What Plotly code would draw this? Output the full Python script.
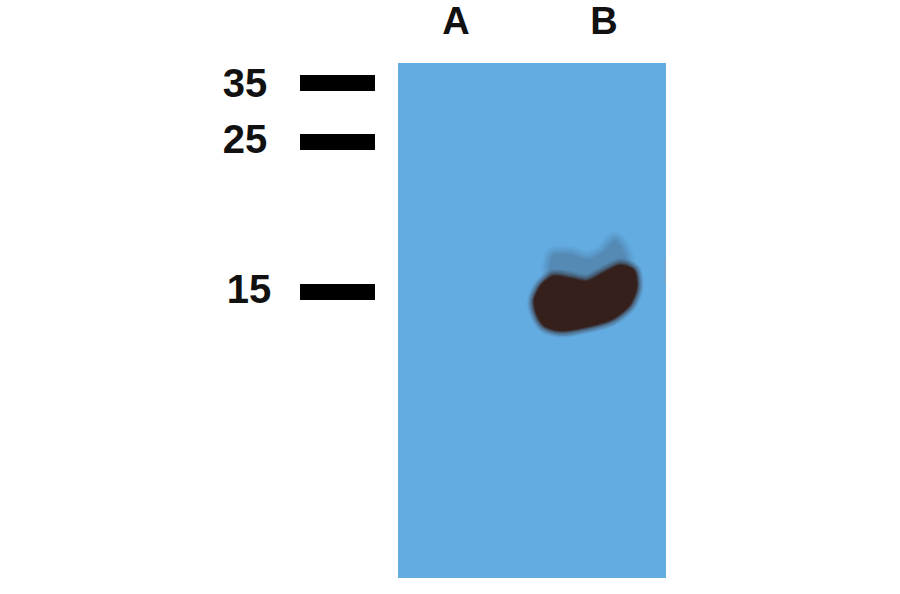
import plotly.graph_objects as go

# everything in image pixels (y runs downwards)
lane_labels = ['A', 'B']
lane_x = [456, 604]
lane_y = [24.5, 24.5]

mw_labels = ['35', '25', '15']
mw_label_x = [245, 245, 249]
mw_label_y = [87, 143, 293]

# marker bars
bar_y = [83, 142, 292]
bar_start = [300, 300, 300]
bar_length = [75, 75, 75]

# film panel
panel_x = [398, 666, 666, 398, 398]
panel_y = [63, 63, 578, 578, 63]

# main band outline
band_x = [534, 541, 553, 570, 587, 603, 620, 634, 637, 630, 613, 587, 560, 544, 536, 534]
band_y = [300, 285, 276, 278, 281, 273, 265, 270, 287, 305, 319, 327, 331, 326, 313, 300]

# fainter smear above the band
smear_x = [550, 553, 570, 587, 602, 615, 623, 627, 600, 570, 550]
smear_y = [275, 255, 254, 259, 253, 240, 250, 265, 285, 285, 275]

# faint mark on the right edge
edge_x = [664, 666, 666, 664, 664]
edge_y = [258, 258, 284, 284, 258]

BLUE = '#63ace2'
DARK = '#35201c'
SMEAR = '#4f7b9e'

fig = go.Figure()

fig.add_trace(go.Scatter(x=panel_x, y=panel_y, mode='lines', fill='toself',
                         fillcolor=BLUE, line=dict(color=BLUE, width=0)))
fig.add_trace(go.Scatter(x=edge_x, y=edge_y, mode='lines', fill='toself', opacity=0.4,
                         fillcolor='#7f9fb8', line=dict(color='#7f9fb8', width=0)))

# stacked wide strokes give the soft film edge
for width, alpha in [(16, 0.1), (12, 0.12), (8, 0.16), (4, 0.2), (0, 0.35)]:
    fig.add_trace(go.Scatter(x=smear_x, y=smear_y, mode='lines', fill='toself', opacity=alpha,
                             fillcolor=SMEAR, line=dict(color=SMEAR, width=width, shape='spline', smoothing=0.8)))
for width, alpha in [(13, 0.1), (10, 0.15), (7, 0.22), (4, 0.35), (2, 0.5), (0, 1)]:
    fig.add_trace(go.Scatter(x=band_x, y=band_y, mode='lines', fill='toself', opacity=alpha,
                             fillcolor=DARK, line=dict(color=DARK, width=width, shape='spline', smoothing=0.8)))

fig.add_trace(go.Bar(y=bar_y, x=bar_length, base=bar_start, orientation='h', width=16,
                     marker=dict(color='black', line=dict(width=0))))

fig.add_trace(go.Scatter(x=mw_label_x, y=mw_label_y, text=mw_labels, mode='text', textposition='middle center',
                         textfont=dict(family='Liberation Sans', size=40, color='#111111', weight='bold')))
fig.add_trace(go.Scatter(x=lane_x, y=lane_y, text=lane_labels, mode='text', textposition='middle center',
                         textfont=dict(family='Liberation Sans', size=38, color='#111111', weight='bold')))

fig.update_layout(
    width=900, height=594,
    margin=dict(l=0, r=0, t=0, b=0),
    paper_bgcolor='white', plot_bgcolor='white',
    showlegend=False,
    xaxis=dict(range=[0, 900], visible=False),
    yaxis=dict(range=[594, 0], visible=False),
)

# the page's default body margin would push the figure 8px off
fig.write_html("out.html", config=dict(displayModeBar=False), post_script="document.body.style.margin = '0';")
